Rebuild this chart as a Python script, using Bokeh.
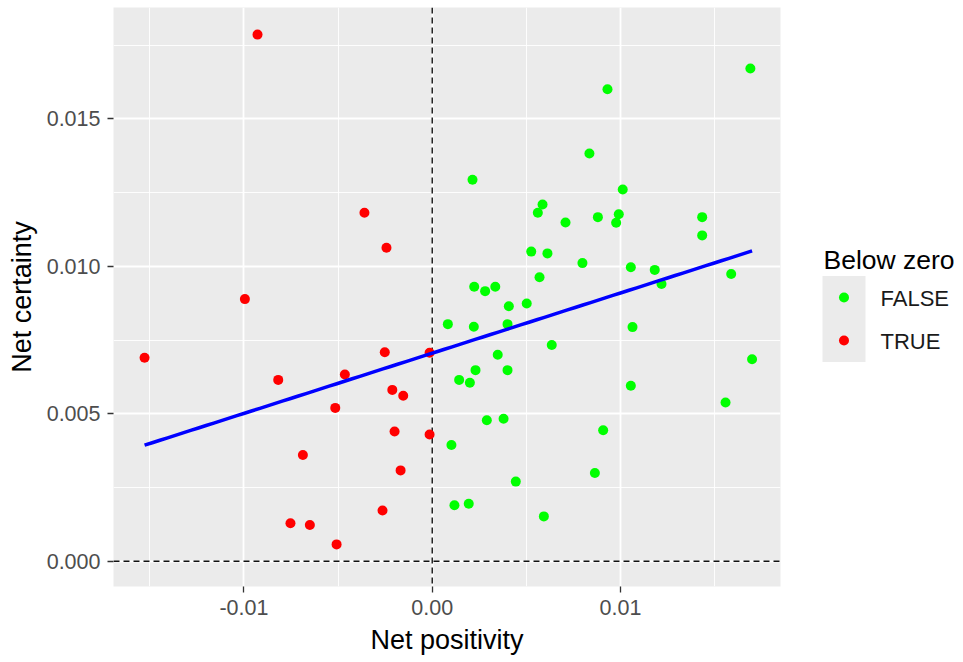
import numpy as np
from bokeh.plotting import figure
from bokeh.layouts import row
from bokeh.models import (ColumnDataSource, Range1d, FixedTicker, PrintfTickFormatter, Span)
from bokeh.transform import factor_cmap
from bokeh.core.properties import value
from bokeh.embed import file_html
from bokeh.resources import INLINE

# ---------------- data ----------------
x_false = [0.01690, 0.00931, 0.00835, 0.00214, 0.01012, 0.00586, 0.00561, 0.00708,
           0.00880, 0.00991, 0.00977, 0.01434, 0.01434, 0.00526, 0.00612, 0.00798,
           0.01055, 0.01182, 0.01218, 0.01588, 0.00570, 0.00223, 0.00281, 0.00335,
           0.00502, 0.00407, 0.00083, 0.00221, 0.00400, 0.01064, 0.00635, 0.00348,
           0.01699, 0.00230, 0.00400, 0.00143, 0.00200, 0.01055, 0.01558, 0.00290,
           0.00379, 0.00908, 0.00102, 0.00864, 0.00444, 0.00118, 0.00194, 0.00593]
y_false = [0.01671, 0.01601, 0.01383, 0.01294, 0.01261, 0.01210, 0.01182, 0.01149,
           0.01167, 0.01177, 0.01148, 0.01167, 0.01105, 0.01050, 0.01044, 0.01011,
           0.00997, 0.00988, 0.00940, 0.00974, 0.00963, 0.00931, 0.00916, 0.00931,
           0.00874, 0.00865, 0.00804, 0.00795, 0.00804, 0.00794, 0.00733, 0.00700,
           0.00685, 0.00648, 0.00648, 0.00615, 0.00605, 0.00595, 0.00538, 0.00478,
           0.00483, 0.00444, 0.00394, 0.00299, 0.00270, 0.00190, 0.00195, 0.00152]

x_true = [-0.01528, -0.00928, -0.00995, -0.00818, -0.00360, -0.00243, -0.00464,
          -0.00252, -0.00014, -0.00212, -0.00154, -0.00515, -0.00200, -0.00014,
          -0.00687, -0.00168, -0.00264, -0.00753, -0.00650, -0.00508]
y_true = [0.00690, 0.01786, 0.00889, 0.00615, 0.01182, 0.01063, 0.00633,
          0.00709, 0.00707, 0.00581, 0.00561, 0.00520, 0.00440, 0.00430,
          0.00360, 0.00308, 0.00172, 0.00129, 0.00123, 0.00057]

groups = ["FALSE", "TRUE"]
group_colors = ["#00ff00", "#ff0000"]

x_ticks = [-0.01, 0.0, 0.01]
x_minor = [-0.015, -0.005, 0.005, 0.015]
y_ticks = [0.0, 0.005, 0.010, 0.015]
y_minor = [0.0025, 0.0075, 0.0125, 0.0175]

x_lim = (-0.01693, 0.0185)
y_lim = (-0.000858, 0.01878)

FONT = "Liberation Sans"

# ---------------- layout constants ----------------
H = 662
FR_LEFT, FR_RIGHT, FR_TOP, FR_BOTTOM = 113, 780, 7, 586
MAIN_W = 785
LEG_W = 170

# ---------------- build ----------------
xs = x_false + x_true
ys = y_false + y_true
grp = ["FALSE"] * len(x_false) + ["TRUE"] * len(x_true)
src = ColumnDataSource(dict(x=xs, y=ys, g=grp))

# linear fit (geom_smooth method = "lm")
xa = np.array(xs)
ya = np.array(ys)
slope, intercept = np.polyfit(xa, ya, 1)
fx = np.linspace(xa.min(), xa.max(), 80)
fy = slope * fx + intercept

p = figure(width=MAIN_W, height=H, output_backend="svg", toolbar_location=None,
           x_range=Range1d(*x_lim), y_range=Range1d(*y_lim),
           min_border_left=FR_LEFT, min_border_right=MAIN_W - FR_RIGHT,
           min_border_top=FR_TOP, min_border_bottom=H - FR_BOTTOM)
p.background_fill_color = "#ebebeb"
p.border_fill_color = "white"
p.outline_line_color = None

p.xaxis.ticker = FixedTicker(ticks=x_ticks, minor_ticks=x_minor)
p.yaxis.ticker = FixedTicker(ticks=y_ticks, minor_ticks=y_minor)
p.xaxis.formatter = PrintfTickFormatter(format="%.2f")
p.yaxis.formatter = PrintfTickFormatter(format="%.3f")

for g in (p.xgrid, p.ygrid):
    g.grid_line_color = "white"
    g.grid_line_width = 1.8
    g.minor_grid_line_color = "white"
    g.minor_grid_line_width = 0.9

for ax in (p.xaxis, p.yaxis):
    ax.axis_line_color = None
    ax.major_tick_line_color = "#333333"
    ax.major_tick_line_width = 1.3
    ax.major_tick_out = 6
    ax.major_tick_in = 0
    ax.minor_tick_line_color = None
    ax.major_label_text_font = FONT
    ax.major_label_text_font_size = "21.5px"
    ax.major_label_text_color = "#4d4d4d"
    ax.major_label_standoff = 7
    ax.axis_label_text_font = FONT
    ax.axis_label_text_font_size = "27px"
    ax.axis_label_text_font_style = "normal"
    ax.axis_label_text_color = "black"
    ax.axis_label_standoff = 7

p.xaxis.axis_label = "Net positivity"
p.yaxis.axis_label = "Net certainty"

p.add_layout(Span(location=0, dimension="width", line_color="#111111", line_width=1.4,
                  line_dash="6 4", level="underlay"))
p.add_layout(Span(location=0, dimension="height", line_color="#111111", line_width=1.4,
                  line_dash="6 4", level="underlay"))

p.scatter("x", "y", source=src, size=10, line_color=None,
          fill_color=factor_cmap("g", palette=group_colors, factors=groups))
p.line(fx, fy, line_color="#0000ff", line_width=3.5)

# ---------------- legend panel (coordinates = page pixels) ----------------
lg = figure(width=LEG_W, height=H, output_backend="svg", toolbar_location=None,
            x_range=Range1d(MAIN_W, MAIN_W + LEG_W), y_range=Range1d(FR_BOTTOM, FR_TOP),
            x_axis_location=None, y_axis_location=None,
            min_border_left=0, min_border_right=0,
            min_border_top=FR_TOP, min_border_bottom=H - FR_BOTTOM)
lg.outline_line_color = None
lg.grid.visible = False
lg.background_fill_color = "white"
lg.border_fill_color = "white"

key_left = 822
key_size = 43.0
key_top = 275.5
rows_c = [key_top + key_size * (i + 0.5) for i in range(len(groups))]
lg.text(x=[823], y=[259.3], text=["Below zero"], text_font=value(FONT),
        text_font_size=value("26.5px"), text_color="black", text_baseline="alphabetic")
lg.quad(left=[key_left] * len(groups), right=[key_left + key_size] * len(groups),
        top=[c - key_size / 2 for c in rows_c], bottom=[c + key_size / 2 for c in rows_c],
        fill_color="#ebebeb", line_color=None)
lg.scatter(x=[key_left + key_size / 2] * len(groups), y=rows_c, size=10,
           fill_color=group_colors, line_color=None)
lg.text(x=[880] * len(groups), y=[c + 0.8 for c in rows_c], text=groups,
        text_font=value(FONT), text_font_size=value("22px"), text_color="#1a1a1a",
        text_baseline="middle")

layout = row(p, lg)
open("out.html", "w").write(file_html(layout, INLINE))
